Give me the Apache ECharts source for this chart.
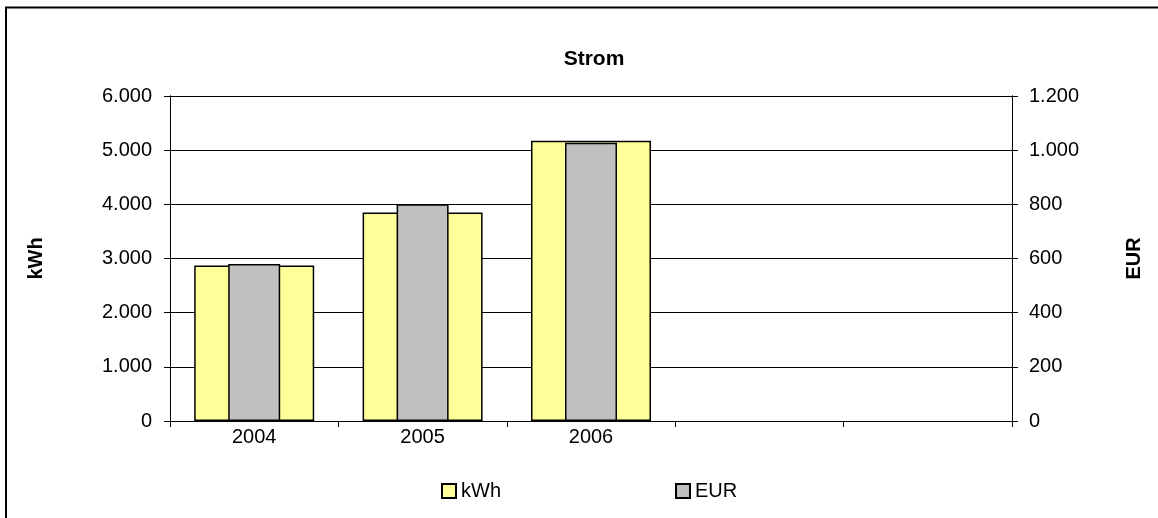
<!DOCTYPE html>
<html><head><meta charset="utf-8">
<script src="https://cdn.jsdelivr.net/npm/echarts@6/dist/echarts.min.js"></script>
<style>html,body{margin:0;padding:0;background:#fff}#c{width:1158px;height:518px}</style>
</head><body><div id="c"></div>
<script>
const categories = ['2004', '2005', '2006', '', ''];
const kwhValues = [2870, 3850, 5175, null, null];
const eurValues = [580, 800, 1027, null, null];
const leftTicks = [0, 6000, 1000];
const rightTicks = [0, 1200, 200];

const fmt = v => String(v).replace(/\B(?=(\d{3})+(?!\d))/g, '.');
const font = '"Liberation Sans", Arial, sans-serif';
const FS = 20;
const chart = echarts.init(document.getElementById('c'));
const yBase = (pos, t) => ({
  type: 'value', position: pos, min: t[0], max: t[1], interval: t[2],
  axisLine: {show: true, lineStyle: {color: '#000', width: 1}},
  axisTick: {show: true, length: 6, lineStyle: {color: '#000'}},
  splitLine: {show: false}
});
chart.setOption({
  animation: false,
  backgroundColor: '#fff',
  textStyle: {fontFamily: font},
  title: {text: 'Strom', left: 589, textAlign: 'center', top: 44,
    textStyle: {fontFamily: font, fontSize: 21, fontWeight: 'bold', color: '#000'}},
  grid: {left: 170, right: 146, top: 96, bottom: 97},
  legend: [
    {data: ['kWh'], left: 436, top: 476, itemWidth: 14, itemHeight: 14, icon: 'rect',
      textStyle: {fontFamily: font, fontSize: FS, color: '#000'}},
    {data: ['EUR'], left: 670, top: 476, itemWidth: 14, itemHeight: 14, icon: 'rect',
      textStyle: {fontFamily: font, fontSize: FS, color: '#000'}}
  ],
  xAxis: [
    {type: 'category', data: categories, boundaryGap: true,
      axisLine: {lineStyle: {color: '#000'}},
      axisTick: {show: true, interval: 0, length: 6, lineStyle: {color: '#000'}},
      axisLabel: {interval: 0, color: '#000', fontSize: FS, fontFamily: font, margin: 6}},
    {type: 'category', data: categories, show: false}
  ],
  yAxis: [
    Object.assign(yBase('left', leftTicks), {
      name: 'kWh', nameLocation: 'middle', nameGap: 124, nameRotate: 90,
      nameTextStyle: {fontFamily: font, fontSize: FS, fontWeight: 'bold', color: '#000'},
      axisLabel: {color: '#000', fontSize: FS, fontFamily: font, margin: 18, formatter: fmt},
      splitLine: {show: true, lineStyle: {color: '#000', width: 1}}
    }),
    Object.assign(yBase('right', rightTicks), {
      name: 'EUR', nameLocation: 'middle', nameGap: 112, nameRotate: 90,
      nameTextStyle: {fontFamily: font, fontSize: FS, fontWeight: 'bold', color: '#000'},
      axisLabel: {color: '#000', fontSize: FS, fontFamily: font, margin: 17, formatter: fmt}
    }),
    Object.assign(yBase('left', leftTicks), {axisLabel: {show: false}, axisTick: {show: true, inside: true, length: 3, lineStyle: {color: '#000'}}}),
    Object.assign(yBase('right', rightTicks), {axisLabel: {show: false}, axisTick: {show: true, inside: true, length: 6, lineStyle: {color: '#000'}}})
  ],
  series: [
    {name: 'kWh', type: 'bar', xAxisIndex: 0, yAxisIndex: 0, data: kwhValues, barWidth: 120,
      itemStyle: {color: '#FFFF99', borderColor: '#000', borderWidth: 1.5}},
    {name: 'EUR', type: 'bar', xAxisIndex: 1, yAxisIndex: 1, data: eurValues, barWidth: 52,
      itemStyle: {color: '#C0C0C0', borderColor: '#000', borderWidth: 1.5}},
    {type: 'line', xAxisIndex: 0, yAxisIndex: 2, data: []},
    {type: 'line', xAxisIndex: 0, yAxisIndex: 3, data: []}
  ],
  graphic: [
    {type: 'rect', shape: {x: 6, y: 7.5, width: 1200, height: 600}, silent: true, z: 100,
      style: {fill: null, stroke: '#000', lineWidth: 2}}
  ]
});
</script></body></html>
